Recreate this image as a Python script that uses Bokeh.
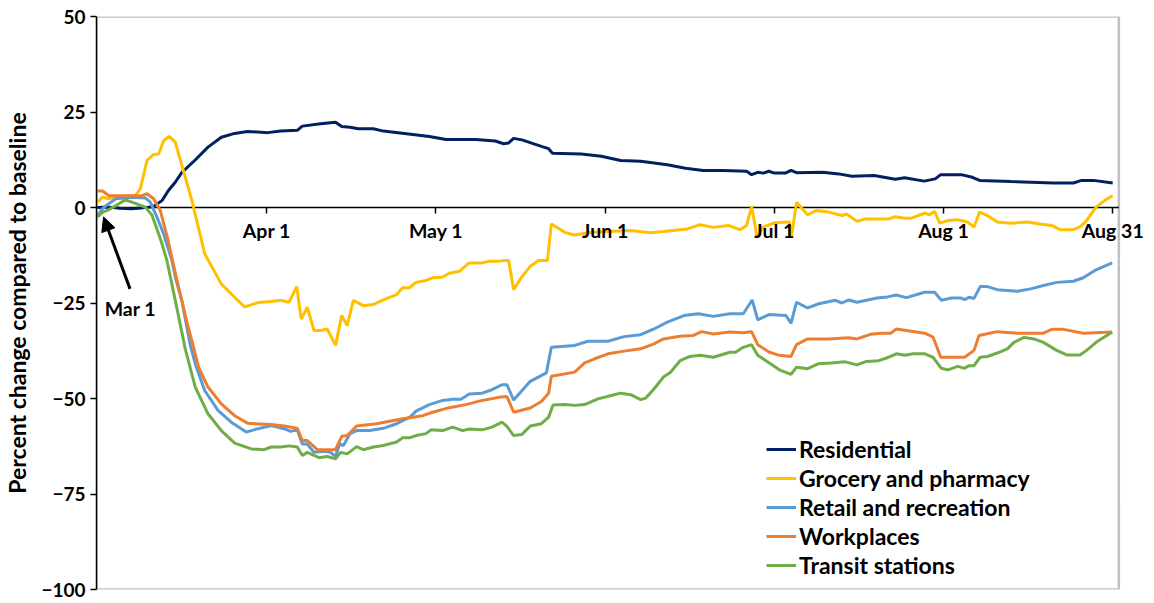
from bokeh.plotting import figure
from bokeh.models import (Range1d, Legend, LegendItem, Arrow, NormalHead, FixedTicker, Label, LinearAxis,
                          BoxAnnotation)
from bokeh.embed import file_html
from bokeh.resources import INLINE

# x = position in days after Mar 1, on the chart's own (evenly spaced) date scale
tick_days = [30.5, 61, 91.5, 122, 152.5, 183]
tick_labels = ["Apr 1", "May 1", "Jun 1", "Jul 1", "Aug 1", "Aug 31"]
y_ticks = [-100, -75, -50, -25, 0, 25, 50]

res_days = [0, 2, 4, 6, 8, 10, 11.6, 12.8, 14, 15.2, 17.5, 19.9, 22.3, 24.7, 27, 30.7, 33, 36, 36.9, 40.2, 42.9, 44,
            45.5, 47, 49.7, 51.5, 55.7, 59.8, 62.8, 68.2, 71.7, 73.2, 74.1, 75, 76.5, 80, 81.3, 82, 87.2, 90.8, 94.3,
            97.9, 102.7, 106, 109.2, 112.8, 117, 117.9, 119, 120, 121, 122, 124, 125, 126, 130.7, 133.6, 136, 140,
            143.8, 145.5, 149, 151, 152, 155.7, 157.7, 159, 164.6, 172.3, 175.9, 177.4, 179.5, 183]
res_vals = [0, 0.1, -0.2, -0.3, -0.1, 0.2, 1.8, 4.5, 6.6, 9.2, 12.3, 15.8, 18.4, 19.4, 19.9, 19.6, 20.0, 20.2, 21.3, 21.9,
            22.3, 21.2, 21.0, 20.6, 20.6, 20.0, 19.3, 18.6, 17.8, 17.8, 17.4, 16.7, 16.9, 18.1, 17.7, 16.0, 15.4, 14.2,
            14.0, 13.4, 12.3, 12.1, 11.2, 10.3, 9.7, 9.7, 9.5, 8.6, 9.2, 9.0, 9.5, 9.0, 9.0, 9.7, 9.1, 9.2, 8.8, 8.2,
            8.4, 7.4, 7.8, 6.9, 7.5, 8.6, 8.6, 7.9, 7.1, 6.8, 6.4, 6.4, 7.1, 7.1, 6.4]

gro_days = [0, 0.9, 2, 3.3, 5, 6.8, 7.7, 8.9, 10.1, 11, 11.9, 12.9, 14, 15.2, 17, 19.3, 22.3, 24.7, 26.5, 28.9, 31.3,
            33, 34.5, 35.9, 36.7, 37.8, 39, 40.2, 41.4, 42.9, 44, 45, 46.1, 47.9, 49.7, 51.5, 53.9, 55, 56.2, 57.4,
            59.2, 60.4, 62.2, 63.4, 65.2, 67, 69.3, 70.5, 72.3, 73, 74.1, 75, 76.5, 78, 79.5, 81.1, 81.8, 84.2, 86,
            89, 96.1, 99.7, 102, 106.3, 108.6, 111, 113.7, 115.8, 117, 117.9, 118.9, 120, 122, 124.7, 125.1, 126,
            128, 129.5, 131.8, 134.2, 135, 136.9, 138.4, 142.6, 143.8, 145.5, 146.7, 149.1, 150, 150.9, 151.8, 153.3,
            155.1, 156.8, 158, 159, 160.4, 162.2, 164.6, 167.6, 169.9, 172, 173.5, 175.9, 177.1, 178.3, 180, 181.5,
            183]
gro_vals = [1.4, 2.7, 2.3, 2.7, 2.9, 3.1, 4.9, 12.3, 13.9, 14.0, 17.5, 18.6, 17.1, 11.0, 1.8, -12.1, -20.0, -23.5,
            -26.0, -24.9, -24.6, -24.3, -24.8, -20.7, -29.2, -26.1, -32.2, -32.2, -31.8, -36.1, -28.3, -30.9, -24.3,
            -25.7, -25.4, -24.2, -22.8, -21.0, -21.0, -19.6, -19.1, -18.4, -18.2, -17.2, -16.7, -14.5, -14.5, -14.1,
            -14.1, -13.9, -13.9, -21.5, -18.1, -15.4, -13.9, -13.9, -4.3, -6.5, -7.2, -6.5, -6.0, -6.6, -6.3, -5.6,
            -4.5, -5.2, -4.7, -5.8, -4.7, 0.3, -7.8, -5.1, -4.0, -3.8, -7.6, 1.4, -1.9, -0.8, -1.2, -2.1, -1.7, -3.6,
            -3.0, -3.0, -2.4, -2.8, -2.8, -1.5, -1.9, -1.0, -4.1, -3.4, -3.2, -3.8, -5.1, -1.2, -2.1, -3.8, -4.1,
            -3.8, -4.3, -4.7, -5.8, -5.8, -5.1, -3.4, 0.1, 1.8, 3.1]

ret_days = [0, 0.9, 2, 3.3, 6.3, 8.6, 9.5, 10.7, 11.9, 13.4, 14, 15.2, 16.7, 17.6, 19.3, 21.7, 24.1, 26.8, 28.9, 31.3,
            33.6, 34.8, 36, 36.9, 37.8, 39, 41, 42, 42.9, 43.6, 44.3, 45.5, 46.7, 49.1, 51.5, 53.9, 56.3, 57.4, 59.8,
            62.2, 64, 65.5, 67, 69.3, 71.1, 72.9, 73.8, 75, 78, 80.9, 81.8, 86, 88.4, 92, 94.9, 97.9, 100.3, 102.7,
            105.7, 108.3, 111, 114, 116.4, 118, 119, 121.1, 124.1, 125, 126, 128, 130, 133, 134.2, 135.4, 136.9,
            140.5, 142.4, 144, 145.8, 149.1, 150.9, 152.1, 153.9, 155.7, 156.3, 157.1, 158, 159.1, 160.4, 162.2,
            165.8, 168.2, 170.5, 172.9, 175.9, 177.7, 180, 182.9]
ret_vals = [-2.1, -0.3, 1.0, 2.3, 2.7, 2.5, 1.4, -2.5, -6.9, -13.9, -18.2, -24.5, -36.0, -40.9, -47.9, -53.1, -56.2,
            -58.8, -57.9, -57.1, -57.9, -58.6, -58.2, -61.9, -61.9, -64.1, -63.8, -64.1, -65.2, -61.9, -62.3, -59.2,
            -58.4, -58.4, -57.8, -56.6, -54.9, -53.3, -51.6, -50.5, -50.2, -50.2, -48.8, -48.6, -47.7, -46.4, -46.4,
            -50.4, -45.5, -43.3, -36.6, -36.1, -35.0, -35.0, -33.8, -33.3, -31.8, -30.0, -28.3, -27.8, -28.5, -27.8,
            -27.8, -24.2, -29.4, -28.0, -28.3, -30.3, -24.8, -26.3, -25.2, -24.3, -25.0, -24.2, -24.8, -23.7, -23.4,
            -22.9, -23.6, -22.2, -22.2, -24.3, -23.7, -23.7, -24.1, -23.5, -23.8, -20.7, -20.7, -21.5, -21.9, -21.3,
            -20.4, -19.6, -19.3, -18.4, -16.3, -14.5]

wor_days = [0, 0.9, 2, 3.9, 8, 8.9, 10.1, 11.3, 12.6, 14.3, 16.1, 17.3, 18.2, 19.9, 22.3, 24.7, 27.1, 31.3, 33.6, 36,
            36.9, 37.8, 39.6, 42.9, 44, 45, 46.7, 50.3, 55, 58.6, 60.4, 63.4, 66.4, 69.3, 72.3, 73.8, 75, 78, 80,
            81.3, 81.8, 86, 87.8, 89.6, 92, 94.9, 97.9, 100.3, 102, 105, 107.4, 108.9, 111, 114, 116.4, 117.9, 119,
            121.1, 122.9, 125, 126, 128, 131.8, 135.4, 136.9, 139.3, 141.4, 143, 144, 146.7, 149.1, 150.6, 152,
            156.3, 158, 158.9, 162.2, 165.8, 170.5, 172, 174.1, 177.7, 182.9]
wor_vals = [4.3, 4.3, 3.1, 3.1, 3.1, 3.6, 2.3, -0.8, -8.0, -19.0, -30.0, -36.6, -41.8, -47.0, -51.4, -54.5, -56.5,
            -56.8, -57.2, -57.8, -61.0, -61.0, -63.4, -63.4, -59.9, -59.7, -57.2, -56.6, -55.3, -54.5, -53.6, -52.4,
            -51.6, -50.5, -49.7, -49.5, -53.6, -52.5, -50.8, -48.6, -44.2, -43.1, -40.7, -39.6, -38.3, -37.6, -37.0,
            -35.7, -34.4, -33.7, -33.5, -32.5, -33.1, -32.6, -32.8, -32.5, -35.9, -37.9, -38.7, -39.0, -35.9, -34.4,
            -34.4, -34.1, -34.4, -33.2, -32.9, -32.9, -31.8, -32.4, -32.9, -33.9, -39.2, -39.2, -37.4, -33.5, -32.5,
            -32.9, -32.9, -31.9, -31.9, -32.9, -32.6]

tra_days = [0, 0.9, 2, 3.3, 5, 6.8, 8.6, 9.8, 11, 11.6, 12.5, 14, 15.8, 17.6, 19.9, 22.3, 24.7, 27.7, 30, 31.3, 33,
            34.5, 36, 36.9, 37.8, 39.9, 41.4, 42.9, 43.8, 45, 46.7, 47.9, 49.7, 51.5, 53.9, 55, 56.2, 57.4, 59.2,
            60.1, 62.2, 64, 65.8, 67, 69.3, 71.1, 72.9, 73.8, 75, 76.5, 78, 80, 81.3, 82.1, 84.2, 86, 87.8, 90.2,
            92.6, 94.3, 96.1, 97.9, 98.8, 100.3, 102, 103.3, 105, 106.8, 108.6, 111, 114, 115, 116.4, 117.9, 119,
            120.5, 122.9, 125, 126, 128, 130, 132.2, 134.8, 136.9, 138.6, 140.8, 142.6, 144, 145.5, 147, 149.1,
            150.6, 152.1, 153.3, 155.1, 156.3, 157.1, 158, 159.1, 160.4, 162.2, 164, 165.2, 167, 168.8, 170.5,
            172.9, 174.7, 177.1, 178.3, 180, 182.9]
tra_vals = [-2.5, -1.2, -0.6, 0.5, 2.0, 1.1, 0.1, -2.0, -6.9, -9.5, -13.9, -24.3, -37.0, -47.0, -54.0, -58.4, -61.7,
            -63.2, -63.4, -62.7, -62.7, -62.4, -62.7, -64.9, -64.1, -65.5, -65.2, -65.8, -64.1, -64.5, -62.6, -63.4,
            -62.7, -62.3, -61.4, -60.3, -60.3, -59.7, -59.2, -58.2, -58.4, -57.5, -58.4, -58.0, -58.2, -57.5, -56.2,
            -57.3, -59.7, -59.4, -57.2, -56.6, -54.9, -51.7, -51.6, -51.8, -51.6, -50.1, -49.2, -48.6, -49.0, -50.3,
            -49.9, -47.5, -44.4, -43.1, -40.1, -39.0, -38.7, -39.2, -37.9, -37.9, -36.6, -35.9, -38.7, -40.1, -42.5,
            -43.7, -41.8, -42.2, -40.9, -40.7, -40.4, -41.2, -40.3, -40.1, -39.2, -38.3, -38.7, -38.3, -38.3, -39.2,
            -42.1, -42.5, -41.6, -42.1, -41.4, -41.4, -39.2, -39.0, -38.1, -37.0, -35.3, -34.0, -34.4, -35.3, -37.4,
            -38.6, -38.6, -37.4, -35.3, -32.6]

series_names = ["Residential", "Grocery and pharmacy", "Retail and recreation", "Workplaces", "Transit stations"]
series_colors = ["#002060", "#FFC000", "#5B9BD5", "#ED7D31", "#70AD47"]
series_days = [res_days, gro_days, ret_days, wor_days, tra_days]
series_vals = [res_vals, gro_vals, ret_vals, wor_vals, tra_vals]

FONT = "Lato"
X_LO, X_HI = -0.2, 184.1          # visible plot-area box (in x units)
X_VIEW_HI = 189.09                # extra room on the right for the last date label

p = figure(width=1146, height=602, output_backend="svg", toolbar_location=None,
           x_range=Range1d(X_LO, X_VIEW_HI), y_range=Range1d(-100, 50),
           x_axis_location=None, min_border_left=86, min_border_right=0,
           min_border_top=16, min_border_bottom=13)
p.grid.visible = False
p.background_fill_color = "white"
p.border_fill_color = "white"
p.outline_line_color = None

# plot-area box
p.add_layout(BoxAnnotation(left=X_LO, right=X_HI, top=50, bottom=-100, fill_alpha=0,
                           line_color="#333333", line_width=2.5, level="underlay"))

ya = p.yaxis[0]
ya.ticker = FixedTicker(ticks=y_ticks)
ya.minor_tick_line_color = None
ya.major_tick_in = 0
ya.major_tick_out = 6
ya.axis_line_color = "black"
ya.axis_line_width = 1.5
ya.major_tick_line_color = "black"
ya.major_tick_line_width = 1.5
ya.major_label_text_font = FONT
ya.major_label_text_font_style = "bold"
ya.major_label_text_font_size = "19px"
ya.major_label_text_color = "black"
ya.major_label_standoff = 5
ya.axis_label = "Percent change compared to baseline"
ya.axis_label_text_font = FONT
ya.axis_label_text_font_style = "bold"
ya.axis_label_text_font_size = "23px"
ya.axis_label_text_color = "black"
ya.axis_label_standoff = 7

# zero line with the date axis on it
p.segment(x0=[X_LO], y0=[0], x1=[X_HI], y1=[0], line_color="black", line_width=1.5)
xa = LinearAxis(fixed_location=0, ticker=FixedTicker(ticks=tick_days),
                major_label_overrides={d: lab for d, lab in zip(tick_days, tick_labels)})
xa.axis_line_color = None
xa.minor_tick_line_color = None
xa.major_tick_in = 0
xa.major_tick_out = 6
xa.major_tick_line_color = "black"
xa.major_tick_line_width = 1.5
xa.major_label_standoff = 5
xa.major_label_text_font = FONT
xa.major_label_text_font_style = "bold"
xa.major_label_text_font_size = "19.5px"
xa.major_label_text_color = "black"
p.add_layout(xa, "below")

items = []
for name, col, xs, ys in zip(series_names, series_colors, series_days, series_vals):
    r = p.line(xs, ys, line_color=col, line_width=3)
    items.append(LegendItem(label=name, renderers=[r]))

legend = Legend(items=items, location=(670, 10), glyph_width=30, glyph_height=20, label_standoff=3,
                label_height=20, spacing=1, padding=0, margin=0, border_line_alpha=0,
                background_fill_alpha=0, label_text_font=FONT, label_text_font_style="bold",
                label_text_font_size="23px", label_text_color="black")
p.add_layout(legend)

# Mar 1 annotation
p.add_layout(Arrow(end=NormalHead(size=14, fill_color="black", line_color="black"),
                   x_start=5.84, y_start=-21.3, x_end=1.07, y_end=-2.5,
                   line_color="black", line_width=3))
p.add_layout(Label(x=5.9, y=-26.4, x_units="data", y_units="data", text="Mar 1", text_align="center",
                   text_baseline="alphabetic", text_font=FONT, text_font_style="bold",
                   text_font_size="19.5px", text_color="black"))

open("out.html", "w").write(file_html(p, INLINE))
